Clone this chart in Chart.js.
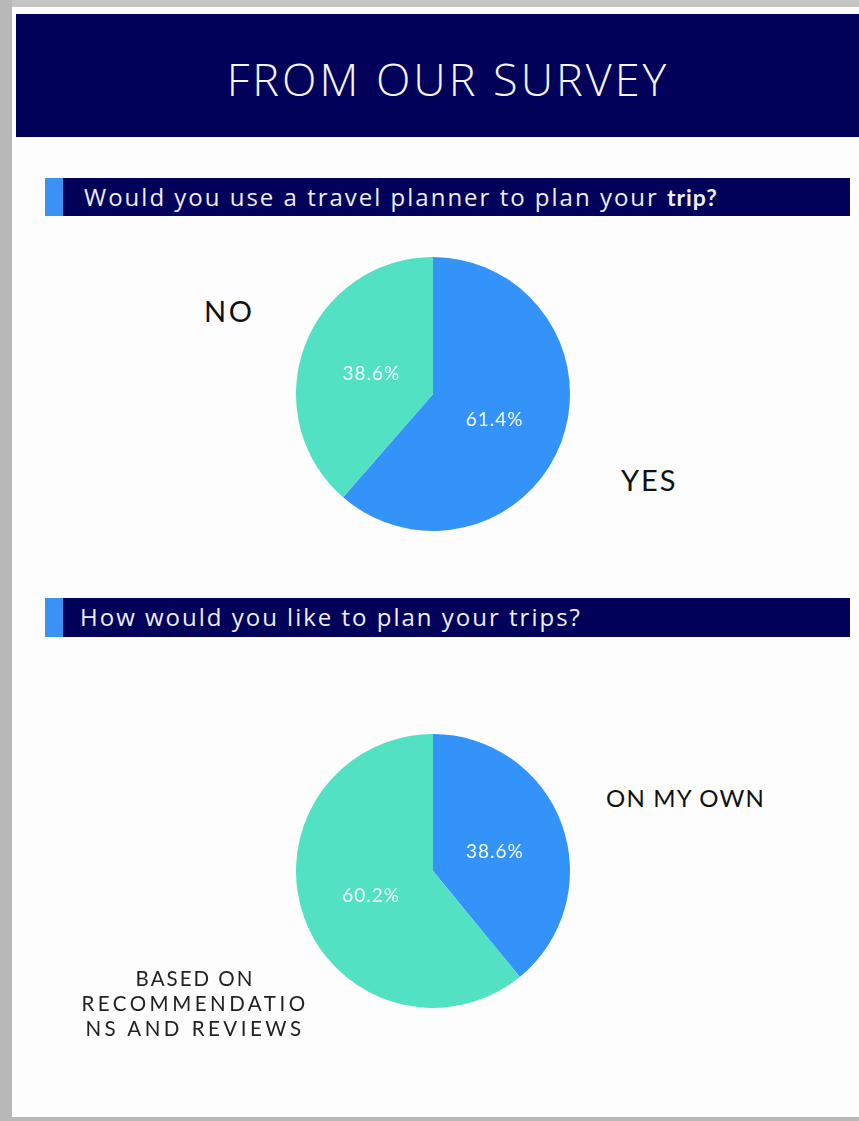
<!DOCTYPE html>
<html>
<head>
<meta charset="utf-8">
<script src="https://cdn.jsdelivr.net/npm/chart.js@4"></script>
<style>
  html, body { margin: 0; padding: 0; }
  body { width: 859px; height: 1121px; position: relative; overflow: hidden; background: #fdfdfd; font-family: Lato, sans-serif; }
  .abs { position: absolute; }
  #edge-left { left: 0; top: 0; width: 12px; height: 1121px; background: #b8b8b8; }
  #edge-top { left: 0; top: 0; width: 859px; height: 7px; background: #c4c4c4; }
  #edge-bottom { left: 0; top: 1117px; width: 859px; height: 4px; background: #b8b8b8; }
  #header { left: 16px; top: 14px; width: 843px; height: 123px; background: #01015a; }
  #title { left: 0; top: 48px; width: 896px; text-align: center; color: #f4f4fb; font-family: "Open Sans", sans-serif; font-weight: 300; font-size: 45px; letter-spacing: 3px; white-space: nowrap; }
  .qbar { left: 45px; width: 805px; background: #01015a; }
  .qbar .accent { position: absolute; left: 0; top: 0; width: 18px; height: 100%; background: #3a93f4; }
  .qbar .q { position: absolute; left: 39px; top: 2px; color: #eeeef8; font-family: "Open Sans", sans-serif; font-size: 24px; letter-spacing: 2px; white-space: nowrap; }
  .qbar .q span { font-family: Lato, sans-serif; font-weight: 700; font-size: 23px; letter-spacing: 1px; margin-left: 8px; }
  .lbl { color: #111; font-family: Lato, sans-serif; white-space: nowrap; }
  .ml { left: 45px; width: 300px; text-align: center; font-size: 20.5px; line-height: 25px; height: 25px; letter-spacing: 3.5px; color: #222; }
  canvas { position: absolute; }
</style>
</head>
<body>
<div class="abs" id="edge-top"></div>
<div class="abs" id="edge-left"></div>
<div class="abs" id="edge-bottom"></div>
<div class="abs" id="header"></div>
<div class="abs" id="title">FROM OUR SURVEY</div>

<div class="abs qbar" style="top:178px;height:38px"><div class="accent"></div><div class="q">Would you use a travel planner to plan your<span>trip?</span></div></div>
<canvas id="pie1" width="274" height="274" style="left:296px;top:257px"></canvas>
<div class="abs lbl" style="left:204px;top:293px;font-size:29px;letter-spacing:2.5px">NO</div>
<div class="abs lbl" style="left:621px;top:462px;font-size:29px;letter-spacing:2px">YES</div>

<div class="abs qbar" style="top:598px;height:39px"><div class="accent"></div><div class="q" style="left:35px">How would you like to plan your trips?</div></div>
<canvas id="pie2" width="274" height="274" style="left:296px;top:734px"></canvas>
<div class="abs lbl" style="left:606px;top:783px;font-size:24px;letter-spacing:1.2px">ON MY OWN</div>
<div class="abs lbl ml" style="top:966px;letter-spacing:2px">BASED ON</div>
<div class="abs lbl ml" style="top:991px">RECOMMENDATIO</div>
<div class="abs lbl ml" style="top:1016px">NS AND REVIEWS</div>

<script>
const COLORS = ['#3393f9', '#52e1c2'];

const q1Labels = ['YES', 'NO'];
const q1Values = [61.4, 38.6];

const q2Labels = ['ON MY OWN', 'BASED ON RECOMMENDATIONS AND REVIEWS'];
const q2Values = [38.6, 60.2];

// draws the percentage inside each slice
const sliceLabels = {
  id: 'sliceLabels',
  afterDatasetsDraw(chart) {
    const ctx = chart.ctx;
    const data = chart.data.datasets[0].data;
    ctx.save();
    ctx.fillStyle = '#f5fbff';
    ctx.font = '19px Lato';
    ctx.letterSpacing = '1px';
    ctx.textAlign = 'center';
    ctx.textBaseline = 'middle';
    chart.getDatasetMeta(0).data.forEach((arc, i) => {
      const mid = (arc.startAngle + arc.endAngle) / 2;
      const r = arc.outerRadius * 0.48;
      ctx.fillText(data[i].toFixed(1) + '%', arc.x + Math.cos(mid) * r, arc.y + Math.sin(mid) * r + 3);
    });
    ctx.restore();
  }
};

function makePie(id, labels, values) {
  new Chart(document.getElementById(id), {
    type: 'pie',
    data: {
      labels,
      datasets: [{ data: values, backgroundColor: COLORS, borderWidth: 0 }],
    },
    options: {
      responsive: false,
      animation: false,
      layout: { padding: 0 },
      plugins: { legend: { display: false }, tooltip: { enabled: false } },
    },
    plugins: [sliceLabels],
  });
}

makePie('pie1', q1Labels, q1Values);
makePie('pie2', q2Labels, q2Values);
</script>
</body>
</html>
